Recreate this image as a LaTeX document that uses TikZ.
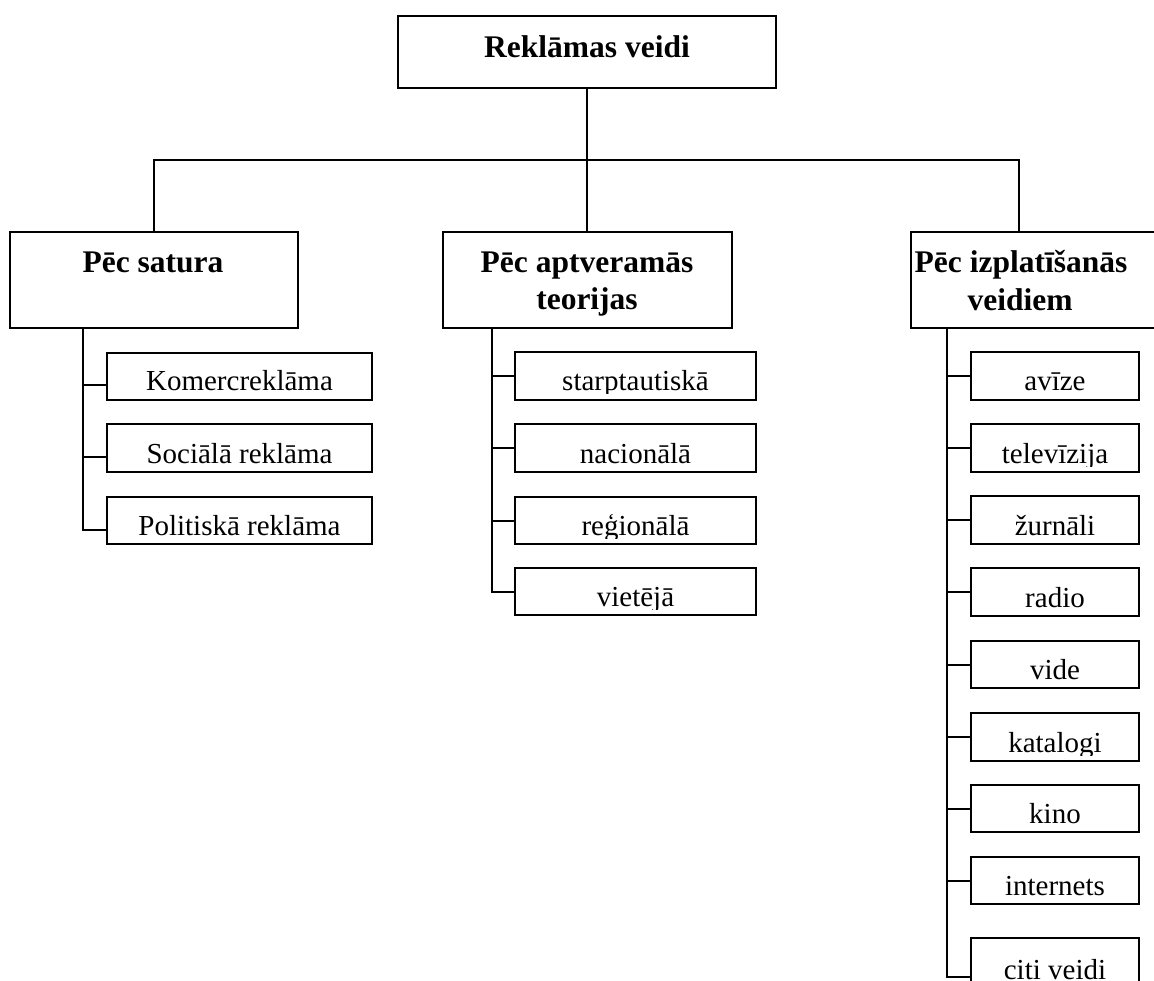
\documentclass[tikz,border=0pt]{standalone}
\usepackage{fontspec}
\setmainfont{Liberation Serif}
\newcommand\mybox[5]{%
  \node[box, minimum width={#4-#2}, minimum height={#5-#3}] (#1) at (#2,#3) {};}
\newcommand\mykid[6]{%
  \node[box, minimum width={#4-#2}, minimum height={#5-#3}] (#1) at (#2,#3) {};
  \begin{scope}
    \clip ([yshift=6pt]#1.south west) rectangle (#1.north east);
    \node[item] (#1t) at ([yshift=9pt]#1.south) {#6};
  \end{scope}}
\begin{document}
\begin{tikzpicture}[x=1pt,y=-1pt,line width=2pt,
  box/.style={draw, rectangle, inner sep=0pt, outer sep=0pt, anchor=north west},
  head/.style={font=\fontsize{31.5}{37}\selectfont\bfseries, inner sep=0pt, anchor=base, align=center},
  item/.style={font=\fontsize{29}{34}\selectfont, inner sep=0pt, anchor=base}]
\fill[white] (0,0) rectangle (1154,981);
\useasboundingbox (0,0) rectangle (1154,981);

% top level
\mybox{top}{398}{16}{776}{88}
\node[head] (toptext) at (587,58) {Reklāmas veidi};

\mybox{A}{10}{232}{298}{328}
\node[head] (Atext) at (153,273) {Pēc satura};
\mybox{B}{443}{232}{732}{328}
\node[head] (Btext) at (587,273) {Pēc aptveramās};
\node[head] (Btext2) at (587,310) {teorijas};
\mybox{C}{911}{232}{1162}{328}
\node[head] (Ctext) at (1021,273) {Pēc izplatīšanās};
\node[head] (Ctext2) at (1020,311) {veidiem};

\coordinate (hub) at (587,160);
\coordinate (cTop) at (1019,232);
\draw (top.south) -- (top.south |- B.north);
\draw (A.north) |- (cTop |- hub) -- (cTop);

% left column
\mykid{k1}{107}{353}{372}{400}{Komercreklāma}
\mykid{k2}{107}{424}{372}{472}{Sociālā reklāma}
\mykid{k3}{107}{497}{372}{544}{Politiskā reklāma}
\coordinate (ta) at (83,328);
\draw (ta) |- ([yshift=-9pt]k3.west);
\foreach \n in {k1,k2} \draw ([yshift=-9pt]\n.west) -- ([yshift=-9pt]\n.west -| ta);

% middle column
\mykid{m1}{515}{352}{756}{400}{starptautiskā}
\mykid{m2}{515}{424}{756}{472}{nacionālā}
\mykid{m3}{515}{497}{756}{544}{reģionālā}
\mykid{m4}{515}{568}{756}{615}{vietējā}
\coordinate (tb) at (492,328);
\draw (tb) |- (m4.west);
\foreach \n in {m1,m2,m3} \draw (\n.west) -- (\n.west -| tb);

% right column
\mykid{r1}{971}{352}{1139}{400}{avīze}
\mykid{r2}{971}{424}{1139}{472}{televīzija}
\mykid{r3}{971}{496}{1139}{544}{žurnāli}
\mykid{r4}{971}{568}{1139}{616}{radio}
\mykid{r5}{971}{641}{1139}{688}{vide}
\mykid{r6}{971}{713}{1139}{761}{katalogi}
\mykid{r7}{971}{785}{1139}{832}{kino}
\mykid{r8}{971}{857}{1139}{904}{internets}
\mykid{r9}{971}{938}{1139}{988}{citi veidi}
\coordinate (tc) at (947,328);
\draw (tc) |- ([yshift=-14pt]r9.west);
\foreach \n in {r1,r2,r3,r4,r5,r6,r7,r8} \draw (\n.west) -- (\n.west -| tc);
\end{tikzpicture}
\end{document}
